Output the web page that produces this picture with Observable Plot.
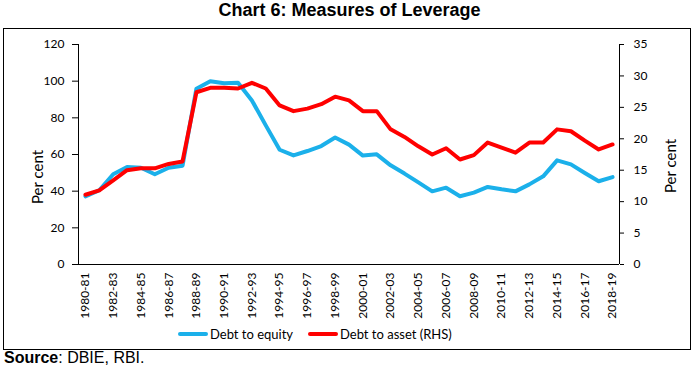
<!DOCTYPE html>
<html>
<head>
<meta charset="utf-8">
<script src="https://cdn.jsdelivr.net/npm/d3@7"></script>
<script src="https://cdn.jsdelivr.net/npm/@observablehq/plot@0.6"></script>
<style>
  html, body { margin: 0; padding: 0; background: #fff; }
  body { width: 699px; height: 372px; position: relative; overflow: hidden; font-family: "Liberation Sans", Arial, sans-serif; color: #000; }
  #title { position: absolute; left: 0; top: 0; width: 699px; height: 26px; line-height: 26px; text-align: center; font: bold 18px "Liberation Sans", Arial, sans-serif; }
  #box { position: absolute; left: 3px; top: 28px; width: 686px; height: 320px; border: 1px solid #000; }
  #chart { position: absolute; left: 0; top: 28px; }
  .ylab { position: absolute; font: 15px Lato, "Liberation Sans", sans-serif; white-space: nowrap; transform-origin: center center; }
  #legend { position: absolute; top: 326px; left: 0; width: 699px; font: 13px Lato, "Liberation Sans", sans-serif; }
  .lg { position: absolute; display: flex; align-items: center; white-space: nowrap; }
  .sw { display: inline-block; width: 30px; height: 4px; margin-right: 2px; border-radius: 2px; }
  #source { position: absolute; left: 4px; top: 349px; font: 16px "Liberation Sans", Arial, sans-serif; }
</style>
</head>
<body>
<div id="title">Chart 6: Measures of Leverage</div>
<div id="box"></div>
<div id="chart"></div>
<div class="ylab" id="ylabL">Per cent</div>
<div class="ylab" id="ylabR">Per cent</div>
<div id="legend"></div>
<div id="source"><b>Source</b>: DBIE, RBI.</div>
<script>
const years = ["1980-81","1981-82","1982-83","1983-84","1984-85","1985-86","1986-87","1987-88","1988-89","1989-90",
  "1990-91","1991-92","1992-93","1993-94","1994-95","1995-96","1996-97","1997-98","1998-99","1999-00",
  "2000-01","2001-02","2002-03","2003-04","2004-05","2005-06","2006-07","2007-08","2008-09","2009-10",
  "2010-11","2011-12","2012-13","2013-14","2014-15","2015-16","2016-17","2017-18","2018-19"];
const debtToEquity = [37.2,40.5,49.2,53.2,52.8,49.2,52.8,53.9,95.9,100.0,98.9,99.1,89.5,75.9,62.6,59.5,61.9,64.6,69.3,65.4,
  59.4,60.1,54.1,49.6,44.8,39.9,41.9,37.2,39.2,42.3,41.0,39.9,43.7,48.1,56.8,54.6,49.9,45.4,47.7];
const debtToAsset = [11.1,11.8,13.4,15.0,15.3,15.3,16.0,16.4,27.4,28.1,28.1,28.0,28.9,28.0,25.3,24.4,24.8,25.5,26.7,26.1,
  24.4,24.4,21.5,20.3,18.8,17.5,18.5,16.7,17.4,19.4,18.6,17.8,19.4,19.4,21.5,21.2,19.7,18.3,19.1];
const leftTicks = [0,20,40,60,80,100,120];
const rightTicks = [0,5,10,15,20,25,30,35];
const seriesNames = ["Debt to equity", "Debt to asset (RHS)"];
const colors = ["#1BB0EA", "#FF0000"];

const LMAX = 120, RMAX = 35;
const toLeft = v => v * LMAX / RMAX;
const xTickIdx = years.map((y, i) => i).filter(i => i % 2 === 0);

const chart = Plot.plot({
  width: 699,
  height: 300,
  marginLeft: 78,
  marginRight: 80,
  marginTop: 16,
  marginBottom: 64,
  style: { fontFamily: "Lato, 'Liberation Sans', sans-serif", fontSize: "12px", color: "#000", background: "transparent", overflow: "visible" },
  x: { type: "linear", domain: [-0.5, years.length - 0.5] },
  y: { domain: [0, LMAX] },
  marks: [
    Plot.axisY(leftTicks, { anchor: "left", tickSize: 6, tickPadding: 8, label: null, fontSize: 12 }),
    Plot.axisY(rightTicks.map(toLeft), { anchor: "right", tickSize: 4, tickPadding: 10, label: null, fontSize: 12,
      tickFormat: d => String(Math.round(d * RMAX / LMAX)) }),
    Plot.axisX(xTickIdx, { anchor: "bottom", tickSize: 0, tickPadding: 8, tickRotate: -90, label: null, fontSize: 12,
      tickFormat: i => years[i] }),
    Plot.ruleX([-0.5, years.length - 0.5], { stroke: "#000", strokeWidth: 1 }),
    Plot.ruleY([0], { stroke: "#000", strokeWidth: 1 }),
    Plot.line(debtToEquity, { x: (d, i) => i, y: d => d, stroke: colors[0], strokeWidth: 4 }),
    Plot.line(debtToAsset, { x: (d, i) => i, y: d => toLeft(d), stroke: colors[1], strokeWidth: 4 })
  ]
});
document.getElementById("chart").appendChild(chart);

// axis titles
const yl = document.getElementById("ylabL");
yl.style.left = (37 - yl.offsetWidth / 2) + "px";
yl.style.top = (177 - yl.offsetHeight / 2) + "px";
yl.style.transform = "rotate(-90deg)";
const yr = document.getElementById("ylabR");
yr.style.left = (670 - yr.offsetWidth / 2) + "px";
yr.style.top = (166 - yr.offsetHeight / 2) + "px";
yr.style.transform = "rotate(-90deg)";

// legend
const legend = document.getElementById("legend");
const lx = [178, 308];
seriesNames.forEach((name, k) => {
  const item = document.createElement("div");
  item.className = "lg";
  item.style.left = lx[k] + "px";
  item.style.top = "0px";
  const sw = document.createElement("span");
  sw.className = "sw";
  sw.style.background = colors[k];
  item.appendChild(sw);
  const t = document.createElement("span");
  t.textContent = name;
  item.appendChild(t);
  legend.appendChild(item);
});
</script>
</body>
</html>
